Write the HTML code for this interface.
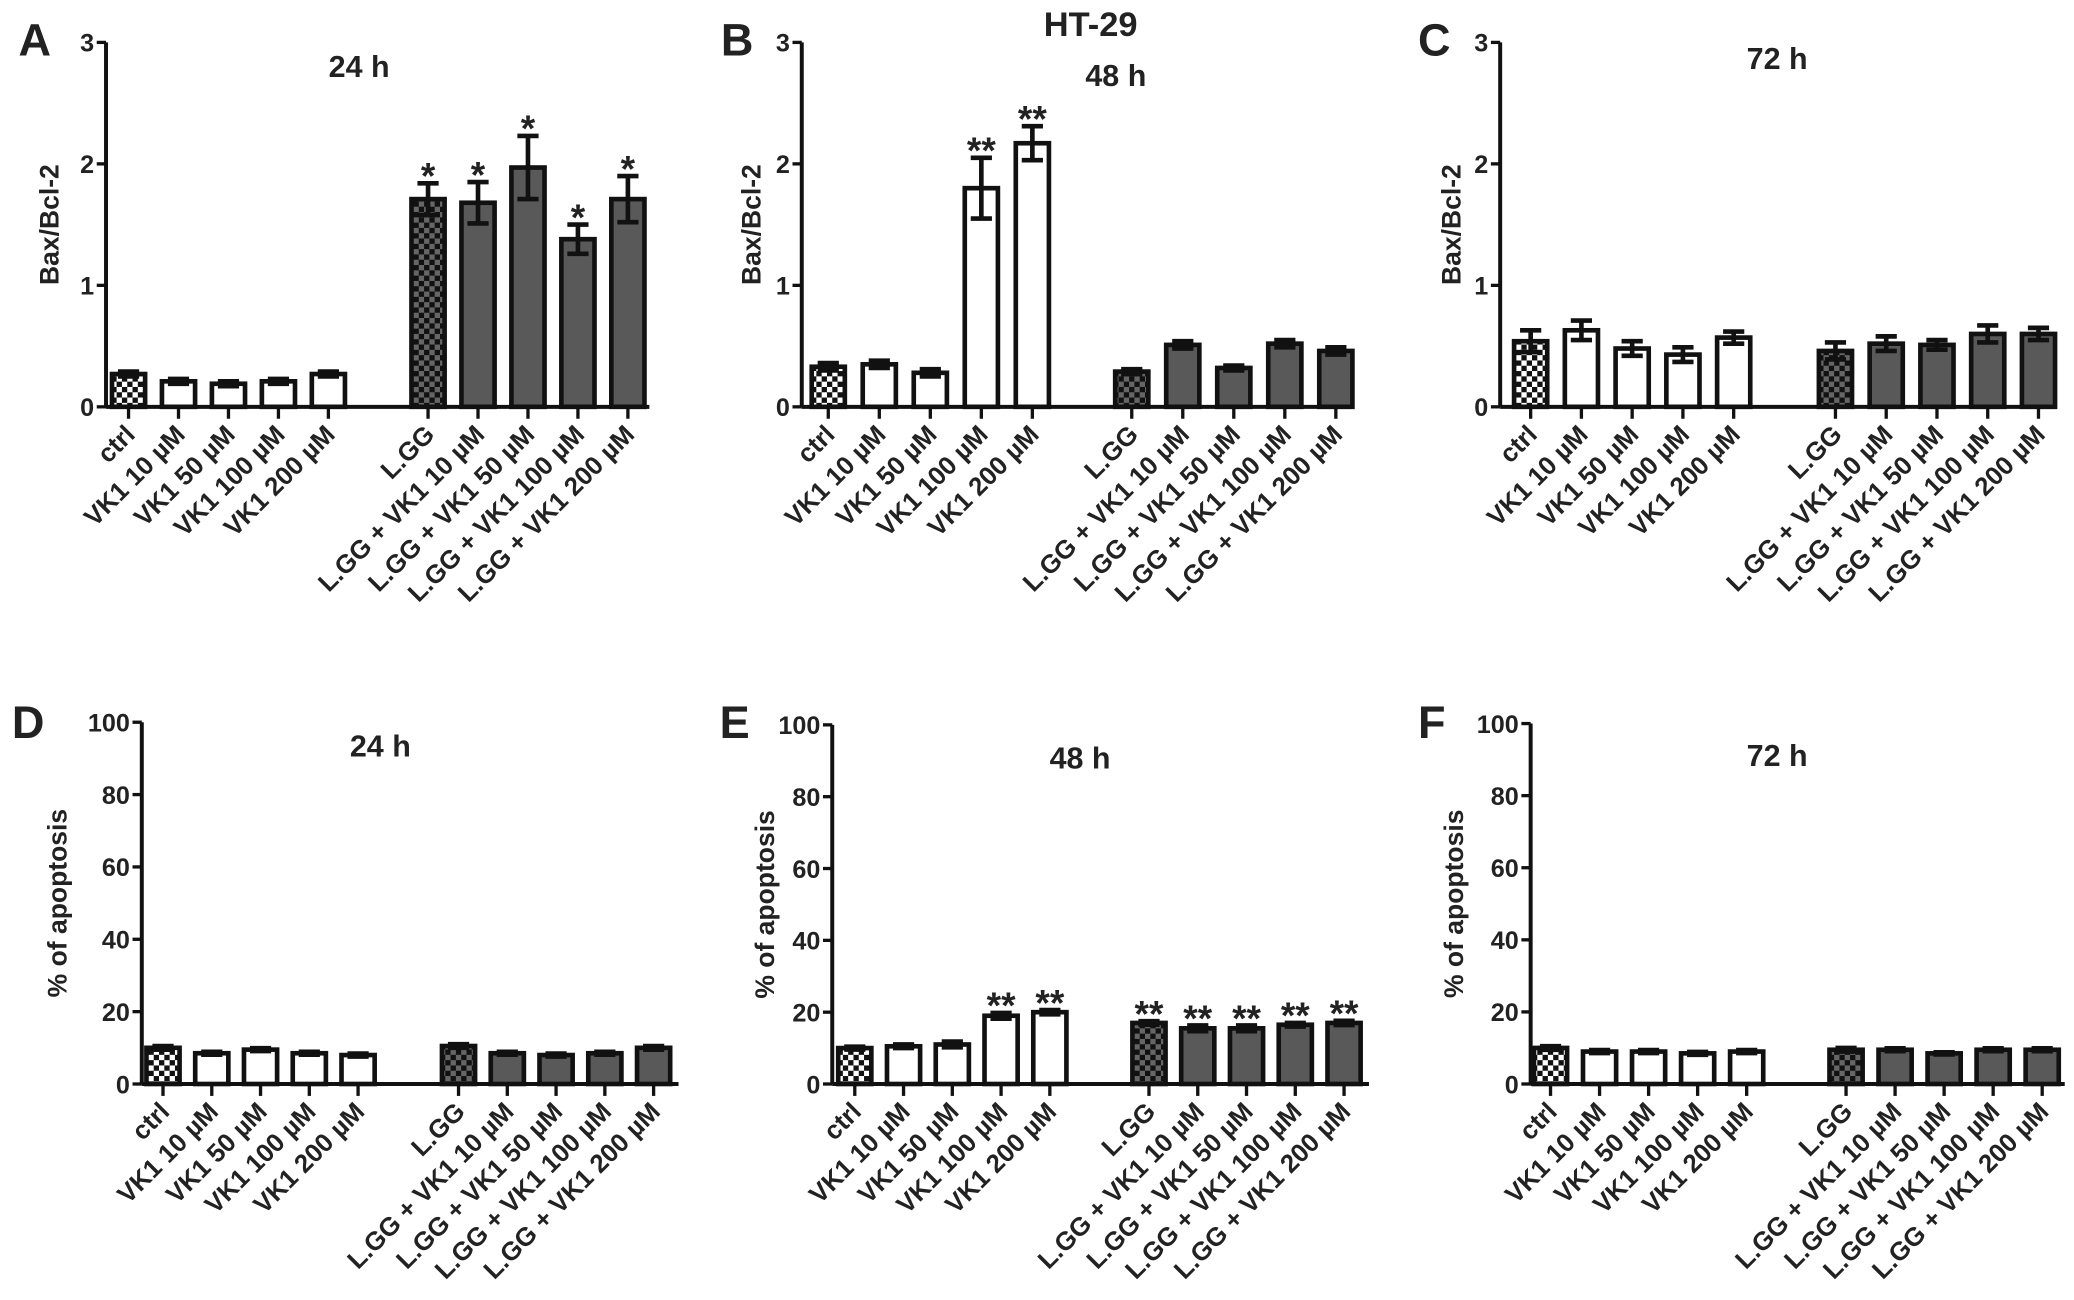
<!DOCTYPE html>
<html><head><meta charset="utf-8"><style>
html,body{margin:0;padding:0;background:#fff;}
svg{display:block;}
text{font-family:"Liberation Sans",Arial,sans-serif;font-weight:bold;fill:#222;}
</style></head><body>
<svg id="fig" width="2074" height="1300" viewBox="0 0 1565 981" preserveAspectRatio="none" xmlns="http://www.w3.org/2000/svg">
<defs>
<pattern id="chkW" width="8" height="8" patternUnits="userSpaceOnUse"><rect width="8" height="8" fill="#fff"/><rect width="4" height="4" fill="#111"/><rect x="4" y="4" width="4" height="4" fill="#111"/></pattern>
<pattern id="chkG" width="8" height="8" patternUnits="userSpaceOnUse"><rect width="8" height="8" fill="#666"/><rect width="4" height="4" fill="#111"/><rect x="4" y="4" width="4" height="4" fill="#111"/></pattern>
</defs>
<text x="823" y="27" font-size="26" text-anchor="middle">HT-29</text>
</svg>
<script>
const categories = ["ctrl","VK1 10 \u00b5M","VK1 50 \u00b5M","VK1 100 \u00b5M","VK1 200 \u00b5M","L.GG","L.GG + VK1 10 \u00b5M","L.GG + VK1 50 \u00b5M","L.GG + VK1 100 \u00b5M","L.GG + VK1 200 \u00b5M"];
const baxTicks = [0,1,2,3];
const apoTicks = [0,20,40,60,80,100];
const valuesA = [0.27,0.21,0.19,0.21,0.27,1.71,1.68,1.97,1.38,1.71];
const errorsA = [0.02,0.02,0.02,0.02,0.02,0.13,0.17,0.26,0.12,0.19];
const starsA = ["","","","","","*","*","*","*","*"];
const valuesB = [0.33,0.35,0.28,1.80,2.17,0.29,0.51,0.32,0.52,0.46];
const errorsB = [0.03,0.03,0.03,0.25,0.14,0.02,0.03,0.02,0.03,0.03];
const starsB = ["","","","**","**","","","","",""];
const valuesC = [0.54,0.63,0.48,0.43,0.57,0.46,0.52,0.51,0.60,0.60];
const errorsC = [0.09,0.08,0.06,0.06,0.05,0.07,0.06,0.04,0.07,0.05];
const starsC = ["","","","","","","","","",""];
const valuesD = [10,8.5,9.5,8.5,8,10.5,8.5,8,8.5,10];
const errorsD = [0.5,0.4,0.4,0.4,0.4,0.5,0.4,0.4,0.4,0.5];
const starsD = ["","","","","","","","","",""];
const valuesE = [10,10.5,11,19,20,17,15.5,15.5,16.5,17];
const errorsE = [0.4,0.5,0.8,0.8,0.6,0.5,0.8,0.8,0.5,0.6];
const starsE = ["","","","**","**","**","**","**","**","**"];
const valuesF = [10,9,9,8.5,9,9.5,9.5,8.5,9.5,9.5];
const errorsF = [0.5,0.4,0.4,0.4,0.4,0.5,0.4,0.3,0.4,0.4];
const starsF = ["","","","","","","","","",""];

const NS="http://www.w3.org/2000/svg";
const svg=document.getElementById('fig');
function mk(tag,attrs,parent){const e=document.createElementNS(NS,tag);for(const k in attrs)e.setAttribute(k,attrs[k]);(parent||svg).appendChild(e);return e;}

const panels=[
 {id:'a',letter:'A',lx:14,ly:42,ax:80,top:32,zero:307,xend:490,gap0:97,step:37.7,gap2:323,max:3,ticks:baxTicks,ylab:'Bax/Bcl-2',ylx:44,title:'24 h',tx:271,ty:58,vals:valuesA,errs:errorsA,stars:starsA},
 {id:'b',letter:'B',lx:544,ly:42,ax:605,top:32,zero:307,xend:1020,gap0:625,step:38.5,gap2:854,max:3,ticks:baxTicks,ylab:'Bax/Bcl-2',ylx:574,title:'48 h',tx:842,ty:65,vals:valuesB,errs:errorsB,stars:starsB},
 {id:'c',letter:'C',lx:1070,ly:42,ax:1132,top:32,zero:307,xend:1550,gap0:1155,step:38.3,gap2:1385,max:3,ticks:baxTicks,ylab:'Bax/Bcl-2',ylx:1102,title:'72 h',tx:1341,ty:52,vals:valuesC,errs:errorsC,stars:starsC},
 {id:'d',letter:'D',lx:9,ly:557,ax:107,top:545,zero:818,xend:512,gap0:123,step:36.8,gap2:346,max:100,ticks:apoTicks,ylab:'% of apoptosis',ylx:50,title:'24 h',tx:287,ty:571,vals:valuesD,errs:errorsD,stars:starsD},
 {id:'e',letter:'E',lx:543,ly:557,ax:628,top:547,zero:818,xend:1033,gap0:645,step:36.8,gap2:867,max:100,ticks:apoTicks,ylab:'% of apoptosis',ylx:584,title:'48 h',tx:815,ty:580,vals:valuesE,errs:errorsE,stars:starsE},
 {id:'f',letter:'F',lx:1070,ly:557,ax:1155,top:546,zero:818,xend:1558,gap0:1170,step:37,gap2:1393,max:100,ticks:apoTicks,ylab:'% of apoptosis',ylx:1104,title:'72 h',tx:1341,ty:578,vals:valuesF,errs:errorsF,stars:starsF}
];

panels.forEach(p=>{
 const g=mk('g',{});
 
 
 const y=v=>p.zero-(v/p.max)*(p.zero-p.top);
 const x=i=>i<5?p.gap0+i*p.step:p.gap2+(i-5)*p.step;
 const L=mk('text',{x:p.lx,y:p.ly,'font-size':34},g);L.textContent=p.letter;
 
 const T=mk('text',{x:p.tx,y:p.ty,'font-size':23,'text-anchor':'middle'},g);T.textContent=p.title;
 
 const Y=mk('text',{x:0,y:0,'font-size':20,'text-anchor':'middle',transform:`translate(${p.ylx},${(p.top+p.zero)/2}) rotate(-90)`},g);Y.textContent=p.ylab;
 
 p.vals.forEach((v,i)=>{
  const cx=x(i),w=25;
  const fill=i===0?'url(#chkW)':i===5?'url(#chkG)':i<5?'#fff':'#595959';
  const e=p.errs[i];
  const eb=mk('path',{d:`M${cx},${y(v-e)}V${y(v+e)}M${cx-8},${y(v+e)}H${cx+8}M${cx-8},${y(v-e)}H${cx+8}`,stroke:'#111','stroke-width':3.5,fill:'none'},g);
  
  const r=mk('rect',{x:cx-w/2,y:y(v),width:w,height:p.zero-y(v),fill:fill,stroke:'#111','stroke-width':3.5},g);
  
  const eb2=mk('path',{d:`M${cx},${y(v)}V${y(v-e)}M${cx-8},${y(v-e)}H${cx+8}`,stroke:'#111','stroke-width':3.5,fill:'none'},g);
  
  if(p.stars[i]){const s=mk('text',{x:cx,y:y(v+e)+4,'font-size':28,'text-anchor':'middle'},g);s.textContent=p.stars[i];
   }
  mk('line',{x1:cx,x2:cx,y1:p.zero,y2:p.zero+9,stroke:'#111','stroke-width':2.5},g);
  const t=mk('text',{x:0,y:0,'font-size':19.5,'text-anchor':'end',transform:`translate(${cx+6},${p.zero+22}) rotate(-45)`},g);t.textContent=categories[i];
  
 });
 const ya=mk('line',{x1:p.ax,x2:p.ax,y1:p.top,y2:p.zero,stroke:'#111','stroke-width':3},g);
 
 const xa=mk('line',{x1:p.ax,x2:p.xend,y1:p.zero,y2:p.zero,stroke:'#111','stroke-width':3},g);
 
 p.ticks.forEach(tv=>{
  mk('line',{x1:p.ax-7,x2:p.ax,y1:y(tv),y2:y(tv),stroke:'#111','stroke-width':2.5},g);
  const tl=mk('text',{x:p.ax-9,y:y(tv)+7,'font-size':19,'text-anchor':'end'},g);tl.textContent=tv;
  
 });
});
</script>
</body></html>
